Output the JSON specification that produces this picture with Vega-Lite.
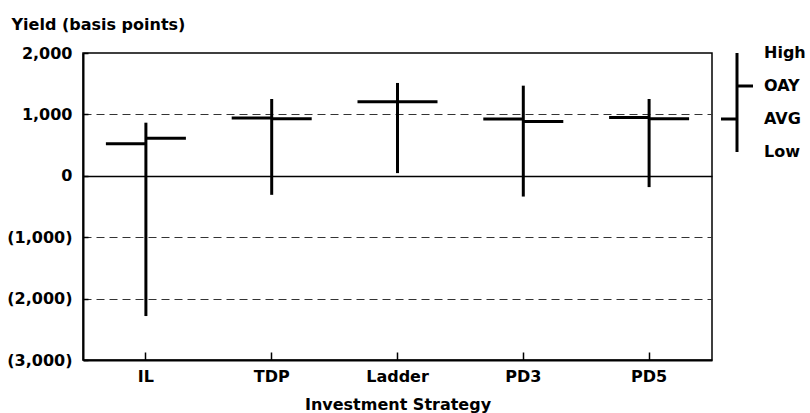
{
  "$schema": "https://vega.github.io/schema/vega-lite/v6.json",
  "background": "white",
  "padding": {"left": 6, "top": 15, "right": 5, "bottom": 5},
  "bounds": "flush",
  "spacing": 9,
  "config": {
    "font": "DejaVu Sans",
    "view": {"stroke": "black", "strokeWidth": 1.5}
  },
  "hconcat": [
    {
      "width": 629,
      "height": 307,
      "data": {
        "values": [
          {"strategy": "IL", "high": 865, "low": -2284, "avg": 522, "oay": 612},
          {"strategy": "TDP", "high": 1251, "low": -310, "avg": 941, "oay": 930},
          {"strategy": "Ladder", "high": 1512, "low": 44, "avg": 1205, "oay": 1205},
          {"strategy": "PD3", "high": 1468, "low": -338, "avg": 925, "oay": 886},
          {"strategy": "PD5", "high": 1251, "low": -184, "avg": 951, "oay": 930}
        ]
      },
      "encoding": {
        "x": {
          "field": "strategy",
          "type": "nominal",
          "sort": null,
          "scale": {"type": "band", "paddingInner": 0, "paddingOuter": 0},
          "axis": {
            "title": "Investment Strategy",
            "titleFontSize": 16,
            "titleFontWeight": "bold",
            "titleColor": "black",
            "titleBaseline": "alphabetic",
            "titleY": 49,
            "labelAngle": 0,
            "labelFontSize": 16,
            "labelFontWeight": "bold",
            "labelColor": "black",
            "labelBaseline": "alphabetic",
            "labelPadding": 29,
            "tickSize": -8,
            "tickColor": "black",
            "tickWidth": 1.5,
            "domainColor": "black",
            "domainWidth": 2,
            "grid": false
          }
        }
      },
      "layer": [
        {
          "mark": {"type": "rule", "strokeWidth": 3, "color": "black"},
          "encoding": {
            "y": {
              "field": "low",
              "type": "quantitative",
              "scale": {"domain": [-3000, 2000], "nice": false, "zero": false},
              "axis": {
                "title": "Yield (basis points)",
                "titleAngle": 0,
                "titleAlign": "left",
                "titleBaseline": "alphabetic",
                "titleX": -72,
                "titleY": -24,
                "titleFontSize": 16,
                "titleFontWeight": "bold",
                "titleColor": "black",
                "values": [-3000, -2500, -2000, -1500, -1000, -500, 0, 500, 1000, 1500, 2000],
                "labelExpr": "datum.value % 1000 !== 0 ? '' : (datum.value < 0 ? '(' + format(-datum.value, ',') + ')' : format(datum.value, ','))",
                "labelOverlap": false,
                "labelFontSize": 16,
                "labelFontWeight": "bold",
                "labelColor": "black",
                "labelPadding": 16,
                "tickSize": -5,
                "tickColor": "black",
                "tickWidth": 1.5,
                "domainColor": "black",
                "domainWidth": 2,
                "grid": true,
                "gridColor": {"condition": {"test": "datum.value === 0", "value": "black"}, "value": "#333333"},
                "gridWidth": {"condition": {"test": "datum.value === 0", "value": 1.5}, "value": 1},
                "gridDash": {"condition": {"test": "datum.value === 0", "value": []}, "value": [8, 5]},
                "gridOpacity": {"condition": {"test": "datum.value % 1000 !== 0 || datum.value === 2000 || datum.value === -3000", "value": 0}, "value": 1}
              }
            },
            "y2": {"field": "high"}
          }
        },
        {
          "mark": {"type": "rule", "strokeWidth": 3, "color": "black"},
          "encoding": {
            "x": {"field": "strategy", "type": "nominal", "sort": null, "bandPosition": 0.182},
            "x2": {"field": "strategy", "bandPosition": 0.5},
            "y": {"field": "avg", "type": "quantitative"}
          }
        },
        {
          "mark": {"type": "rule", "strokeWidth": 3, "color": "black"},
          "encoding": {
            "x": {"field": "strategy", "type": "nominal", "sort": null, "bandPosition": 0.5},
            "x2": {"field": "strategy", "bandPosition": 0.818},
            "y": {"field": "oay", "type": "quantitative"}
          }
        }
      ]
    },
    {
      "width": 32,
      "height": 99,
      "view": {"stroke": null},
      "data": {
        "values": [
          {"key": "High", "rank": 4},
          {"key": "OAY", "rank": 3},
          {"key": "AVG", "rank": 2},
          {"key": "Low", "rank": 1}
        ]
      },
      "layer": [
        {
          "mark": {"type": "rule", "strokeWidth": 3, "color": "black"},
          "encoding": {
            "x": {"datum": 0, "type": "quantitative", "scale": {"domain": [-1, 1], "nice": false, "zero": false}, "axis": null},
            "y": {"aggregate": "min", "field": "rank", "type": "quantitative", "scale": {"domain": [1, 4], "nice": false, "zero": false}, "axis": null},
            "y2": {"aggregate": "max", "field": "rank"}
          }
        },
        {
          "transform": [{"filter": "datum.key === 'OAY'"}],
          "mark": {"type": "rule", "strokeWidth": 3, "color": "black"},
          "encoding": {
            "x": {"datum": 0, "type": "quantitative", "axis": null},
            "x2": {"datum": 1},
            "y": {"field": "rank", "type": "quantitative", "axis": null}
          }
        },
        {
          "transform": [{"filter": "datum.key === 'AVG'"}],
          "mark": {"type": "rule", "strokeWidth": 3, "color": "black"},
          "encoding": {
            "x": {"datum": -1, "type": "quantitative", "axis": null},
            "x2": {"datum": 0},
            "y": {"field": "rank", "type": "quantitative", "axis": null}
          }
        },
        {
          "mark": {"type": "text", "align": "left", "baseline": "middle", "dx": 11, "fontSize": 16, "fontWeight": "bold", "color": "black"},
          "encoding": {
            "x": {"datum": 1, "type": "quantitative", "axis": null},
            "y": {"field": "rank", "type": "quantitative", "axis": null},
            "text": {"field": "key"}
          }
        }
      ]
    }
  ]
}
